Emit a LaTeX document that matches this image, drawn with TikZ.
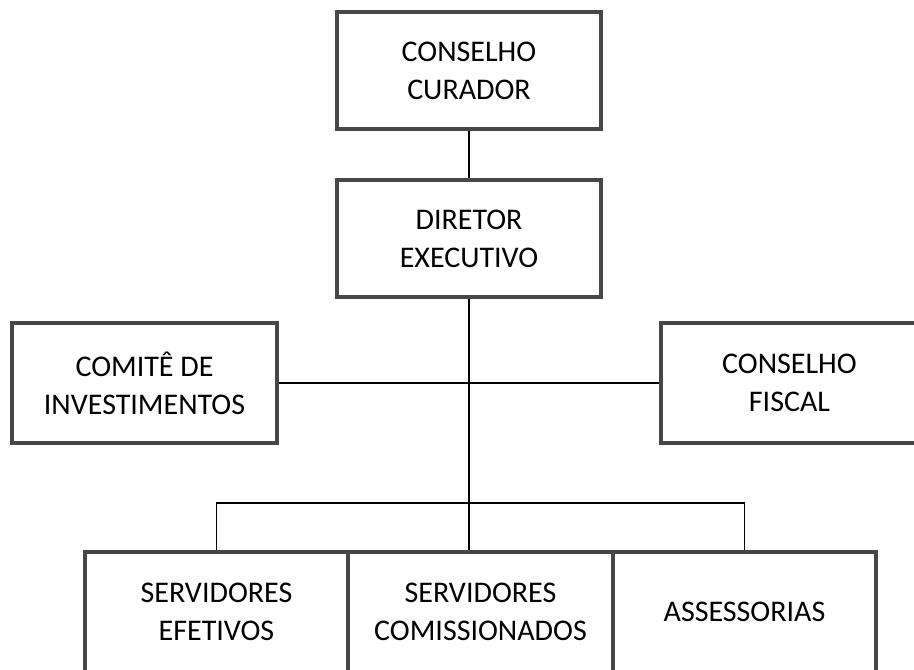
\documentclass[tikz,border=0pt]{standalone}
\usepackage{fontspec}
\setmainfont{Carlito}
\begin{document}
\begin{tikzpicture}[
  box/.style={draw=black!72, line width=2.5pt, fill=white, align=center, inner sep=0pt,
    font=\fontsize{22.5}{28.5}\selectfont, text=black},
  link/.style={draw=black, line width=1.1pt}
]
\useasboundingbox[fill=white] (0,0) rectangle (685.5pt,-501.75pt);
\clip (0,0) rectangle (685.5pt,-501.75pt);
\node[box, minimum width=198pt, minimum height=87.75pt] (cc) at (351.75pt,-52.875pt) {CONSELHO\\CURADOR};
\node[box, minimum width=198pt, minimum height=87.75pt] (de) at (351.75pt,-178.875pt) {DIRETOR\\EXECUTIVO};
\node[box, minimum width=198.75pt, minimum height=90pt] (ci) at (108.375pt,-287.25pt) {COMITÊ DE\\INVESTIMENTOS};
\node[box, minimum width=192.75pt, minimum height=90pt] (cf) at (592.125pt,-287.25pt) {CONSELHO\\FISCAL};
\node[box, minimum width=197.25pt, minimum height=90pt] (se) at (162.375pt,-459pt) {SERVIDORES\\EFETIVOS};
\node[box, minimum width=198.75pt, minimum height=90pt] (sc) at (360.375pt,-459pt) {SERVIDORES\\COMISSIONADOS};
\node[box, minimum width=197.25pt, minimum height=90pt] (as) at (558.375pt,-459pt) {ASSESSORIAS};
\coordinate (bus) at (0,-377.25pt);
\draw[link] (cc.south) -- (de.north);
\draw[link] (de.south) -- (de.south |- sc.north);
\draw[link] (ci.east) -- (cf.west);
\draw[link] (se.north) -- (se.north |- bus) -- (as.north |- bus) -- (as.north);
\end{tikzpicture}
\end{document}
